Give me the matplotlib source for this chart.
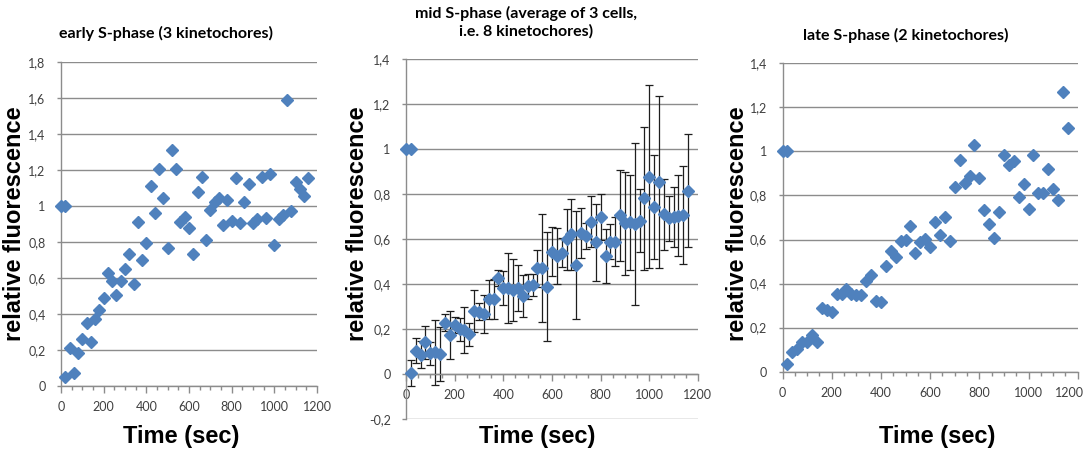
"""
FRAP recovery curves of kinetochores at three S-phase stages
"""

import matplotlib
matplotlib.use('Agg')
import matplotlib.pyplot as plt
import matplotlib.transforms as mtransforms
from matplotlib.ticker import MultipleLocator, FixedLocator, FixedFormatter

# time points (sec): two pre-bleach frames, then post-bleach frames
time_pre = [0, 20]
time_post = [20, 40, 60, 80, 100, 120, 140, 160, 180, 200,
             220, 240, 260, 280, 300, 320, 340, 360, 380, 400,
             420, 440, 460, 480, 500, 520, 540, 560, 580, 600,
             620, 640, 660, 680, 700, 720, 740, 760, 780, 800,
             820, 840, 860, 880, 900, 920, 940, 960, 980, 1000,
             1020, 1040, 1060, 1080, 1100, 1120, 1140, 1160]

pre_values = [1.0, 1.0]

early_post = [0.052, 0.213, 0.074, 0.181, 0.263, 0.352, 0.244, 0.374, 0.422, 0.487,
              0.629, 0.585, 0.505, 0.585, 0.648, 0.731, 0.564, 0.908, 0.697, 0.794,
              1.11, 0.962, 1.204, 1.042, 0.764, 1.312, 1.204, 0.912, 0.936, 0.875,
              0.731, 1.075, 1.158, 0.808, 0.977, 1.019, 1.045, 0.892, 1.032, 0.914,
              1.154, 0.903, 1.023, 1.121, 0.905, 0.927, 1.158, 0.931, 1.178, 0.783,
              0.925, 0.951, 1.587, 0.969, 1.134, 1.093, 1.055, 1.153]

mid_post = [0.003, 0.104, 0.085, 0.141, 0.092, 0.096, 0.089, 0.228, 0.173, 0.218,
            0.199, 0.196, 0.176, 0.28, 0.277, 0.267, 0.332, 0.334, 0.428, 0.384,
            0.384, 0.374, 0.384, 0.347, 0.391, 0.396, 0.471, 0.471, 0.388, 0.544,
            0.525, 0.54, 0.599, 0.621, 0.486, 0.626, 0.614, 0.678, 0.586, 0.7,
            0.525, 0.589, 0.589, 0.707, 0.67, 0.675, 0.667, 0.682, 0.781, 0.878,
            0.744, 0.855, 0.71, 0.692, 0.7, 0.704, 0.707, 0.815]

mid_err = [0.058, 0.056, 0.06, 0.072, 0.052, 0.143, 0.12, 0.038, 0.107, 0.037,
           0.052, 0.102, 0.05, 0.092, 0.037, 0.083, 0.085, 0.09, 0.035, 0.075,
           0.155, 0.137, 0.103, 0.095, 0.055, 0.048, 0.082, 0.24, 0.243, 0.11,
           0.124, 0.065, 0.137, 0.159, 0.24, 0.112, 0.056, 0.115, 0.172, 0.102,
           0.118, 0.078, 0.108, 0.202, 0.23, 0.21, 0.36, 0.139, 0.318, 0.408,
           0.232, 0.384, 0.158, 0.098, 0.134, 0.18, 0.219, 0.252]

late_post = [0.035, 0.088, 0.105, 0.135, 0.135, 0.168, 0.134, 0.288, 0.28, 0.272,
             0.355, 0.355, 0.375, 0.355, 0.348, 0.348, 0.41, 0.438, 0.322, 0.318,
             0.481, 0.548, 0.519, 0.593, 0.598, 0.663, 0.537, 0.59, 0.603, 0.568,
             0.678, 0.621, 0.701, 0.593, 0.84, 0.961, 0.855, 0.889, 1.03, 0.881,
             0.734, 0.669, 0.609, 0.724, 0.984, 0.939, 0.958, 0.795, 0.851, 0.739,
             0.984, 0.81, 0.813, 0.92, 0.83, 0.78, 1.272, 1.105]

x_ticks = [0, 200, 400, 600, 800, 1000, 1200]
x_tick_labels = ['0', '200', '400', '600', '800', '1000', '1200']

early_yticks = [0, 0.2, 0.4, 0.6, 0.8, 1.0, 1.2, 1.4, 1.6, 1.8]
early_ylabels = ['0', '0,2', '0,4', '0,6', '0,8', '1', '1,2', '1,4', '1,6', '1,8']
mid_yticks = [-0.2, 0, 0.2, 0.4, 0.6, 0.8, 1.0, 1.2, 1.4]
mid_ylabels = ['-0,2', '0', '0,2', '0,4', '0,6', '0,8', '1', '1,2', '1,4']
late_yticks = [0, 0.2, 0.4, 0.6, 0.8, 1.0, 1.2, 1.4]
late_ylabels = ['0', '0,2', '0,4', '0,6', '0,8', '1', '1,2', '1,4']

titles = ['early S-phase (3 kinetochores)',
          'mid S-phase (average of 3 cells,\ni.e. 8 kinetochores)',
          'late S-phase (2 kinetochores)']

BLUE = '#4f81bd'
GRID = '#8c8c8c'
TICK_TEXT = '#404040'


def style_axis(ax, yticks, ylabels):
    ax.set_xlim(0, 1200)
    ax.set_ylim(yticks[0], yticks[-1])
    ax.xaxis.set_major_locator(FixedLocator(x_ticks))
    ax.xaxis.set_major_formatter(FixedFormatter(x_tick_labels))
    ax.xaxis.set_minor_locator(MultipleLocator(50))
    ax.yaxis.set_major_locator(FixedLocator(yticks))
    ax.yaxis.set_major_formatter(FixedFormatter(ylabels))
    ax.grid(axis='y', color=GRID, linewidth=1.0)
    ax.set_axisbelow(True)
    for side in ['top', 'right']:
        ax.spines[side].set_visible(False)
    for side in ['left', 'bottom']:
        ax.spines[side].set_color(GRID)
        ax.spines[side].set_linewidth(1.0)
    ax.tick_params(axis='x', which='major', direction='out', length=5,
                   width=1, color=GRID, pad=6, labelsize=9, labelcolor=TICK_TEXT)
    ax.tick_params(axis='x', which='minor', direction='out', length=3,
                   width=1, color=GRID)
    ax.tick_params(axis='y', direction='out', length=3, width=1, color=GRID,
                   pad=8, labelsize=9, labelcolor=TICK_TEXT)
    for lab in ax.get_xticklabels() + ax.get_yticklabels():
        lab.set_family('Lato')


def draw_points(ax, values):
    ax.plot(time_pre + time_post, pre_values + values, linestyle='none',
            marker='D', ms=6.2, color=BLUE, markeredgecolor=BLUE, zorder=3,
            clip_on=False)


plt.rcParams['font.family'] = ['Lato', 'DejaVu Sans']

fig = plt.figure(figsize=(10.87, 4.5), dpi=100)

ax1 = fig.add_axes([0.0561, 0.1422, 0.2355, 0.7207])
ax2 = fig.add_axes([0.3735, 0.0689, 0.2686, 0.7993])
ax3 = fig.add_axes([0.7199, 0.1740, 0.2716, 0.6853])

# early S-phase
draw_points(ax1, early_post)
style_axis(ax1, early_yticks, early_ylabels)

# mid S-phase with error bars
ax2.errorbar(time_pre + time_post, pre_values + mid_post, yerr=[0, 0] + mid_err,
             fmt='none', ecolor='#1e1e1e', elinewidth=0.9, capsize=2.6,
             capthick=0.9, zorder=2)
draw_points(ax2, mid_post)
style_axis(ax2, mid_yticks, mid_ylabels)
ax2.spines['bottom'].set_position(('data', 0))

# late S-phase
draw_points(ax3, late_post)
style_axis(ax3, late_yticks, late_ylabels)

# pull the last tick label of the right panel in from the figure edge
last = ax3.get_xticklabels()[-1]
last.set_transform(last.get_transform() +
                   mtransforms.ScaledTranslation(-0.08, 0, fig.dpi_scale_trans))

# titles
title_font = dict(fontsize=11.5, fontweight='bold', family='Lato')
fig.text(166 / 1087, 1 - 33 / 450, titles[0], ha='center', va='center', **title_font)
fig.text(526 / 1087, 1 - 22 / 450, titles[1], ha='center', va='center',
         linespacing=1.3, **title_font)
fig.text(906 / 1087, 1 - 35 / 450, titles[2], ha='center', va='center', **title_font)

# axis labels
label_font = dict(fontsize=17, fontweight='bold', family='Liberation Sans')
for x in [15, 358, 738]:
    fig.text(x / 1087, 1 - 224 / 450, 'relative fluorescence', rotation=90,
             ha='center', va='center', **label_font)
for x in [181, 537, 937]:
    fig.text(x / 1087, 1 - 437 / 450, 'Time (sec)', ha='center', va='center',
             **label_font)

fig.savefig('out.png', dpi=100)
